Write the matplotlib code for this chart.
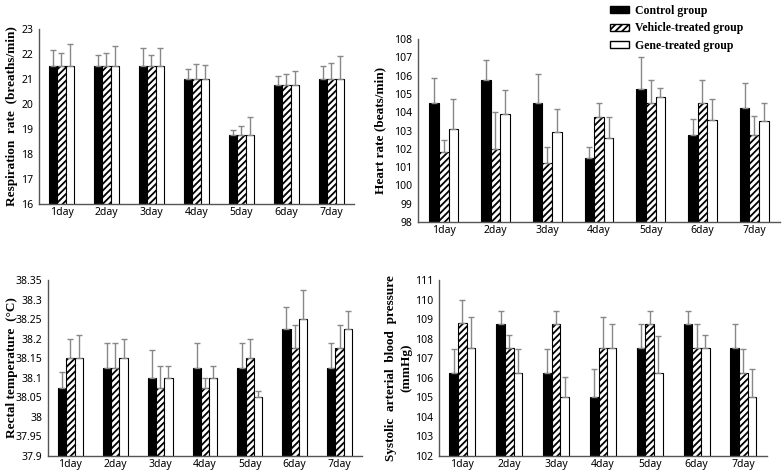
import matplotlib
matplotlib.use("Agg")
import matplotlib.pyplot as plt
import numpy as np
from matplotlib.patches import Patch

days = ["1day", "2day", "3day", "4day", "5day", "6day", "7day"]
groups = ["Control group", "Vehicle-treated group", "Gene-treated group"]

# respiration rate (breaths/min)
resp_ctrl = [21.5, 21.5, 21.5, 21.0, 18.75, 20.75, 21.0]
resp_veh = [21.5, 21.5, 21.5, 21.0, 18.75, 20.75, 21.0]
resp_gene = [21.5, 21.5, 21.5, 21.0, 18.75, 20.75, 21.0]
resp_ctrl_err = [0.65, 0.47, 0.75, 0.4, 0.22, 0.35, 0.53]
resp_veh_err = [0.55, 0.53, 0.47, 0.6, 0.37, 0.43, 0.65]
resp_gene_err = [0.9, 0.83, 0.75, 0.55, 0.73, 0.55, 0.9]

# heart rate (beats/min)
hr_ctrl = [104.5, 105.75, 104.5, 101.5, 105.25, 102.75, 104.25]
hr_veh = [101.8, 102.0, 101.25, 103.75, 104.5, 104.5, 102.75]
hr_gene = [103.1, 103.9, 102.9, 102.6, 104.85, 103.6, 103.5]
hr_ctrl_err = [1.35, 1.08, 1.6, 0.6, 1.75, 0.9, 1.35]
hr_veh_err = [0.67, 2.0, 0.85, 0.75, 1.25, 1.25, 1.05]
hr_gene_err = [1.6, 1.3, 1.3, 1.15, 0.5, 1.1, 1.0]

# rectal temperature (C)
rt_ctrl = [38.075, 38.125, 38.1, 38.125, 38.125, 38.225, 38.125]
rt_veh = [38.15, 38.125, 38.075, 38.075, 38.15, 38.175, 38.175]
rt_gene = [38.15, 38.15, 38.1, 38.1, 38.05, 38.25, 38.225]
rt_ctrl_err = [0.04, 0.065, 0.07, 0.065, 0.065, 0.055, 0.065]
rt_veh_err = [0.05, 0.065, 0.055, 0.025, 0.05, 0.06, 0.06]
rt_gene_err = [0.06, 0.05, 0.03, 0.03, 0.015, 0.075, 0.045]

# systolic arterial blood pressure (mmHg)
bp_ctrl = [106.25, 108.75, 106.25, 105.0, 107.5, 108.75, 107.5]
bp_veh = [108.8, 107.5, 108.75, 107.5, 108.75, 107.5, 106.25]
bp_gene = [107.5, 106.25, 105.0, 107.5, 106.25, 107.5, 105.0]
bp_ctrl_err = [1.2, 0.65, 1.2, 1.45, 1.25, 0.65, 1.25]
bp_veh_err = [1.2, 0.7, 0.65, 1.6, 0.65, 1.25, 1.2]
bp_gene_err = [1.6, 1.2, 1.05, 1.25, 1.9, 0.7, 1.45]

plt.rcParams['hatch.linewidth'] = 1.3
tick_font = "Noto Sans"
lab_font = "Liberation Serif"

fig = plt.figure(figsize=(7.84, 4.73), dpi=100)


def panel(rect, series, errs, ylim, yticks, ylabel, labx):
    ax = fig.add_axes(rect)
    x = np.arange(len(days))
    w = 0.185
    styles = [dict(color="black"), dict(color="white", hatch="/////"),
              dict(color="white")]
    for i, (vals, err, st) in enumerate(zip(series, errs, styles)):
        ax.bar(x + (i - 1) * w, vals, w, edgecolor="black", linewidth=0.8, **st)
        ax.errorbar(x + (i - 1) * w, vals, yerr=[np.zeros(len(err)), err],
                    fmt="none", ecolor="#888888", elinewidth=1.0, capsize=2.2,
                    capthick=1.0)
    ax.set_xlim(-0.5, len(days) - 0.5)
    ax.set_ylim(*ylim)
    ax.set_yticks(yticks)
    ax.set_yticklabels(["{:g}".format(round(t, 3)) for t in yticks])
    ax.set_xticks(x)
    ax.set_xticklabels(days)
    for s in ["top", "right"]:
        ax.spines[s].set_visible(False)
    for s in ["left", "bottom"]:
        ax.spines[s].set_color("#555555")
        ax.spines[s].set_linewidth(1.0)
    ax.tick_params(axis="y", length=0, pad=4, labelsize=7.5)
    ax.tick_params(axis="x", length=0, pad=2.5, labelsize=7.5)
    for t in ax.get_xticklabels() + ax.get_yticklabels():
        t.set_family(tick_font)
        t.set_fontweight("semibold")
    ax.set_ylabel(ylabel, family=lab_font, fontweight="bold", fontsize=9.5,
                  linespacing=1.3)
    ax.yaxis.set_label_coords(labx, 0.5)
    return ax


panel([0.0497, 0.5687, 0.4018, 0.37],
      [resp_ctrl, resp_veh, resp_gene], [resp_ctrl_err, resp_veh_err, resp_gene_err],
      (16, 23), np.arange(16, 23.5, 1), "Respiration  rate  (breaths/min)", -0.065)
panel([0.533, 0.5307, 0.462, 0.3868],
      [hr_ctrl, hr_veh, hr_gene], [hr_ctrl_err, hr_veh_err, hr_gene_err],
      (98, 108), np.arange(98, 108.5, 1), "Heart rate (beats/min)", -0.086)
panel([0.0612, 0.0359, 0.4005, 0.3721],
      [rt_ctrl, rt_veh, rt_gene], [rt_ctrl_err, rt_veh_err, rt_gene_err],
      (37.9, 38.35), np.arange(37.9, 38.36, 0.05), "Rectal temperature  (\u00b0C)", -0.095)
panel([0.56, 0.0359, 0.418, 0.3721],
      [bp_ctrl, bp_veh, bp_gene], [bp_ctrl_err, bp_veh_err, bp_gene_err],
      (102, 111), np.arange(102, 111.5, 1),
      "Systolic  arterial  blood  pressure\n(mmHg)", -0.082)

handles = [Patch(facecolor="black", edgecolor="black"),
           Patch(facecolor="white", edgecolor="black", hatch="/////"),
           Patch(facecolor="white", edgecolor="black")]
fig.legend(handles, groups, loc="upper left", bbox_to_anchor=(0.765, 1.012),
           frameon=False, prop=dict(family=lab_font, weight="bold", size=8.5),
           handlelength=1.6, handleheight=0.55, labelspacing=0.45, handletextpad=0.5)

fig.savefig("out.png", dpi=100)
